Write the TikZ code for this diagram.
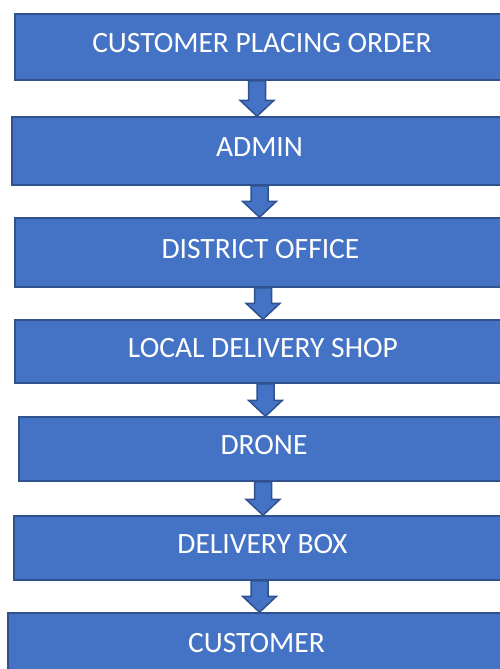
\documentclass[tikz,border=0pt]{standalone}
\usepackage{fontspec}
\setmainfont{Carlito}
\usetikzlibrary{calc,positioning}
\definecolor{boxblue}{HTML}{4472C4}
\definecolor{boxedge}{HTML}{2F528F}

\begin{document}
\begin{tikzpicture}[
    x=1pt, y=-1pt,
    % 全域樣式設定
    stage box/.style={draw=boxedge, fill=boxblue, line width=1.5pt, rectangle, text=white,
        font=\fontsize{29.5}{33}\selectfont, text depth=8pt}, % 藍色方框
    % 區塊箭頭:藍色填滿,深藍邊框
    flow arrow/.style={draw=boxedge, fill=boxblue, line width=1.5pt, line join=miter}
]
    % 固定畫面大小 (超出右側的部分會被裁掉)
    \useasboundingbox (0,0) rectangle (499,669);

    % --- 1. 繪製各個流程方框 ---
    \node[stage box, minimum width=494pt, minimum height=66pt] (order) at (262,47) {CUSTOMER PLACING ORDER};
    \node[stage box, minimum width=495pt, minimum height=68pt] (admin) at (259.5,151) {ADMIN};
    \node[stage box, minimum width=491pt, minimum height=69pt] (district) at (260.5,252.5) {DISTRICT OFFICE};
    \node[stage box, minimum width=496pt, minimum height=63pt] (shop) at (263,351.5) {LOCAL DELIVERY SHOP};
    \node[stage box, minimum width=490pt, minimum height=64pt] (drone) at (264,449) {DRONE};
    \node[stage box, minimum width=497pt, minimum height=64pt] (dbox) at (262.5,548) {DELIVERY BOX};
    \node[stage box, minimum width=497pt, minimum height=67pt] (customer) at (256.5,646.5) {CUSTOMER};

    % --- 2. 繪製方框之間的區塊箭頭 ---
    % 格式: 起點方框/終點方框/水平偏移
    \foreach \from/\to/\dx in {order/admin/-5, admin/district/0, district/shop/2.5,
                               shop/drone/2.5, drone/dbox/-1, dbox/customer/-3}
    {
        \coordinate (s) at ($(\from.south)+(\dx,0)$);
        \coordinate (t) at (s |- \to.north);
        \draw[flow arrow] ($(s)+(-8.5,0)$) -- ($(t)+(-8.5,-16)$) -- ($(t)+(-17,-16)$) -- (t)
            -- ($(t)+(17,-16)$) -- ($(t)+(8.5,-16)$) -- ($(s)+(8.5,0)$) -- cycle;
    }

\end{tikzpicture}
\end{document}
